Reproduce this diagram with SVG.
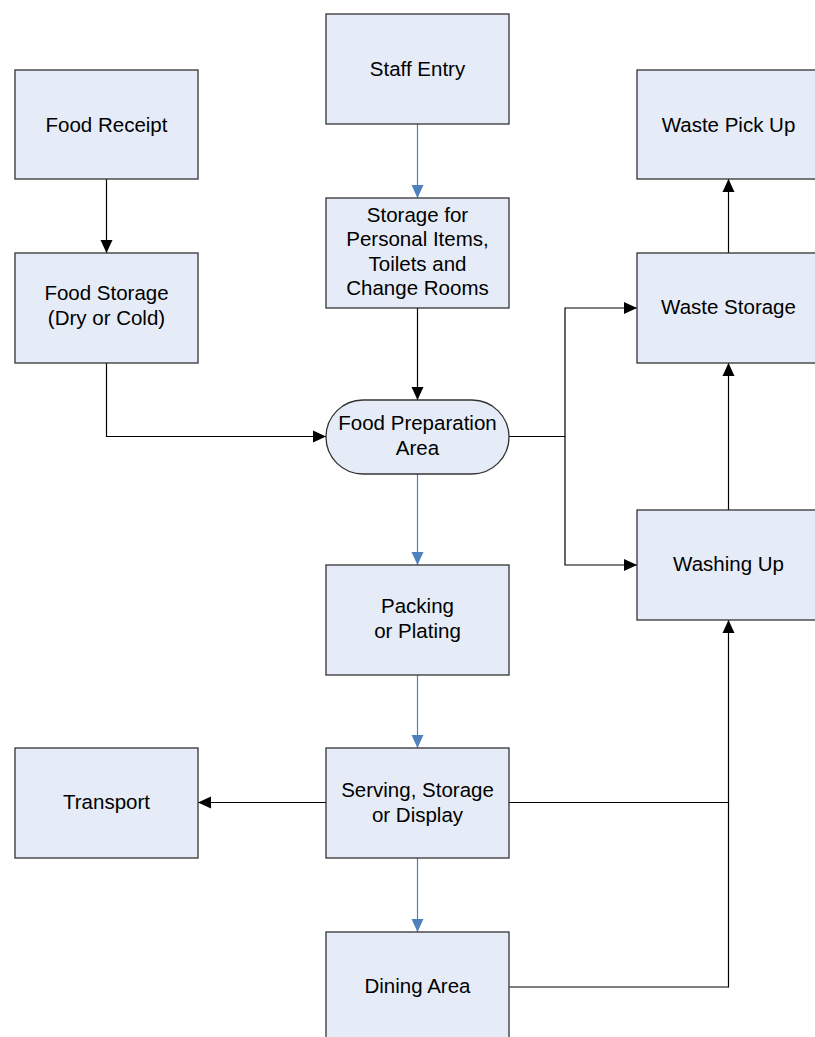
<svg xmlns="http://www.w3.org/2000/svg" width="815" height="1037" viewBox="0 0 815 1037">
<defs>
<style>
.box{fill:#E6ECF7;stroke:#333;stroke-width:1.3}
.t{font-family:"Liberation Sans",Arial,sans-serif;font-size:20.5px;fill:#000;text-anchor:middle}
.c{fill:none;stroke:#000;stroke-width:1.2}
.b{fill:none;stroke:#4F81BD;stroke-width:1.2}
</style>
<marker id="ak" markerWidth="14" markerHeight="14" viewBox="0 0 14 14" refX="13" refY="7" orient="auto" markerUnits="userSpaceOnUse"><path d="M0,1 L13,7 L0,13 Z" fill="#000"/></marker>
<marker id="ab" markerWidth="14" markerHeight="14" viewBox="0 0 14 14" refX="13" refY="7" orient="auto" markerUnits="userSpaceOnUse"><path d="M0,1 L13,7 L0,13 Z" fill="#4F81BD"/></marker>
</defs>
<rect width="815" height="1037" fill="#fff"/>
<g id="connectors">
<path class="c" d="M106.5,179 V253" marker-end="url(#ak)"/>
<path class="b" d="M417.5,124 V198" marker-end="url(#ab)"/>
<path class="c" d="M417.5,308 V400" marker-end="url(#ak)"/>
<path class="c" d="M106.5,363 V436.5 H326" marker-end="url(#ak)"/>
<path class="c" d="M509,436.5 H565 V308 H637" marker-end="url(#ak)"/>
<path class="c" d="M565,436.5 V565 H637" marker-end="url(#ak)"/>
<path class="b" d="M417.5,474 V565" marker-end="url(#ab)"/>
<path class="b" d="M417.5,675 V748" marker-end="url(#ab)"/>
<path class="b" d="M417.5,858 V932" marker-end="url(#ab)"/>
<path class="c" d="M326,802.5 H198" marker-end="url(#ak)"/>
<path class="c" d="M509,802.5 H728.5 V620" marker-end="url(#ak)"/>
<path class="c" d="M509,987 H728.5 V802.5"/>
<path class="c" d="M728.5,510 V363" marker-end="url(#ak)"/>
<path class="c" d="M728.5,253 V179" marker-end="url(#ak)"/>
</g>
<g id="food-receipt"><rect class="box" x="15" y="70" width="183" height="109"/><text class="t" x="106.5" y="131.5">Food Receipt</text></g>
<g id="food-storage"><rect class="box" x="15" y="253" width="183" height="110"/><text class="t" x="106.5" y="300">Food Storage</text><text class="t" x="106.5" y="324.5">(Dry or Cold)</text></g>
<g id="staff-entry"><rect class="box" x="326" y="14" width="183" height="110"/><text class="t" x="417.5" y="76">Staff Entry</text></g>
<g id="personal-storage"><rect class="box" x="326" y="198" width="183" height="110"/><text class="t" x="417.5" y="221.5">Storage for</text><text class="t" x="417.5" y="246">Personal Items,</text><text class="t" x="417.5" y="270.5">Toilets and</text><text class="t" x="417.5" y="295">Change Rooms</text></g>
<g id="food-prep"><rect class="box" x="326" y="400" width="183" height="74" rx="37" ry="37"/><text class="t" x="417.5" y="430">Food Preparation</text><text class="t" x="417.5" y="454.5">Area</text></g>
<g id="waste-pick-up"><rect class="box" x="637" y="70" width="183" height="109"/><text class="t" x="728.5" y="131.5">Waste Pick Up</text></g>
<g id="waste-storage"><rect class="box" x="637" y="253" width="183" height="110"/><text class="t" x="728.5" y="314">Waste Storage</text></g>
<g id="washing-up"><rect class="box" x="637" y="510" width="183" height="110"/><text class="t" x="728.5" y="571">Washing Up</text></g>
<g id="packing"><rect class="box" x="326" y="565" width="183" height="110"/><text class="t" x="417.5" y="613">Packing</text><text class="t" x="417.5" y="637.5">or Plating</text></g>
<g id="serving"><rect class="box" x="326" y="748" width="183" height="110"/><text class="t" x="417.5" y="797">Serving, Storage</text><text class="t" x="417.5" y="821.5">or Display</text></g>
<g id="transport"><rect class="box" x="15" y="748" width="183" height="110"/><text class="t" x="106.5" y="809">Transport</text></g>
<g id="dining"><rect class="box" x="326" y="932" width="183" height="110"/><text class="t" x="417.5" y="993">Dining Area</text></g>
</svg>
